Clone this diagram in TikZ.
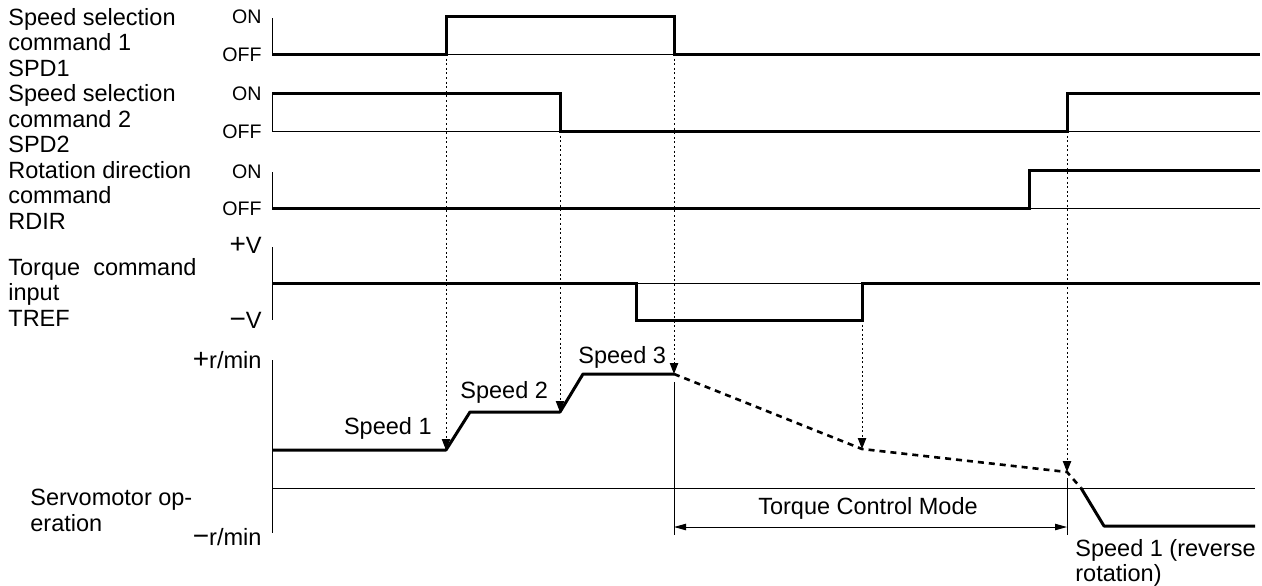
\documentclass[tikz,border=0pt]{standalone}
\usepackage{fontspec}
\setmainfont{Liberation Sans}
\usetikzlibrary{arrows.meta}
\begin{document}
\begin{tikzpicture}[x=0.5pt,y=-0.5pt,
  sig/.style={line width=1.5pt,line join=miter},
  thinline/.style={line width=0.5pt},
  guide/.style={line width=0.5pt,dash pattern=on 1pt off 1.3pt,-{Triangle[length=5.5pt,width=4.2pt]}},
  predict/.style={line width=1.3pt,dash pattern=on 3pt off 2.5pt},
  dimline/.style={line width=0.5pt,{Triangle[length=6pt,width=3.2pt]}-{Triangle[length=6pt,width=3.2pt]}},
  lbl/.style={font=\fontsize{11.75}{12.75}\selectfont,inner sep=0pt,align=left},
  lvl/.style={font=\fontsize{9.8}{12}\selectfont,inner sep=0pt,anchor=east},
  unitlbl/.style={font=\fontsize{11.8}{12}\selectfont,inner sep=0pt,anchor=east}]
\useasboundingbox (0,0) rectangle (1262,585);

% ---------- left labels ----------
\node[lbl,anchor=north west] (l1) at (8,8) {Speed selection\\command 1\\SPD1};
\node[lbl,anchor=north west] (l2) at (8,84.5) {Speed selection\\command 2\\SPD2};
\node[lbl,anchor=north west] (l3) at (8,161) {Rotation direction\\command\\RDIR};
\node[lbl,anchor=north west] (l4) at (8,258) {Torque\ \ command\\input\\TREF};
\node[lbl,anchor=north west] (l5) at (30,489) {Servomotor op-\\eration};

% ---------- level labels ----------
\node[lvl] (on1) at (262,17) {ON};
\node[lvl] (off1) at (262,55) {OFF};
\node[lvl] (on2) at (262,94) {ON};
\node[lvl] (off2) at (262,132) {OFF};
\node[lvl] (on3) at (262,172) {ON};
\node[lvl] (off3) at (262,209) {OFF};
\node[unitlbl] (pv) at (262,245) {{\fontsize{14}{14}\selectfont +}V};
\node[unitlbl] (mv) at (262,320) {{\fontsize{14}{14}\selectfont −}V};
\node[unitlbl] (prpm) at (262,360) {{\fontsize{14}{14}\selectfont +}r/min};
\node[unitlbl] (mrpm) at (262,537) {{\fontsize{14}{14}\selectfont −}r/min};

% ---------- axes and baselines ----------
\draw[thinline] (272,18) -- (272,54) -- (1260,54);
\draw[thinline] (272,93) -- (272,131) -- (1260,131);
\draw[thinline] (272,172) -- (272,208) -- (1260,208);
\draw[thinline] (272,247) -- (272,320);
\draw[thinline] (272,283) -- (1260,283);
\draw[thinline] (272,360) -- (272,533);
\draw[thinline] (272,488) -- (1255,488);

% ---------- signals ----------
\draw[sig] (272,54) -- (446,54) -- (446,16) -- (674,16) -- (674,54) -- (1260,54);
\draw[sig] (272,93) -- (560,93) -- (560,131) -- (1067,131) -- (1067,93) -- (1260,93);
\draw[sig] (272,208) -- (1029,208) -- (1029,170) -- (1260,170);
\draw[sig] (272,283) -- (636,283) -- (636,320) -- (862,320) -- (862,283) -- (1260,283);

% ---------- servomotor speed ----------
\coordinate (s1) at (446,450);
\coordinate (s2) at (560,412);
\coordinate (s3) at (674,374);
\coordinate (s4) at (862,449);
\coordinate (s5) at (1067,472);
\coordinate (z0) at (1081,488);
\draw[sig,line join=round] (272,450) -- (s1) -- (470,412) -- (s2) -- (583,374) -- (s3);
\draw[predict] (s3) -- (s4) -- (s5) -- (z0);
\draw[sig,line join=round] (z0) -- (1104,526) -- (1255,526);

% ---------- guide arrows ----------
\coordinate (g1) at (446,54);
\coordinate (g2) at (560,131);
\coordinate (g3) at (674,54);
\coordinate (g4) at (862,320);
\coordinate (g5) at (1067,131);
\draw[guide] (g1) -- (s1);
\draw[guide] (g2) -- (s2);
\draw[guide] (g3) -- (s3);
\draw[guide] (g4) -- (s4);
\draw[guide] (g5) -- (s5);

% ---------- torque control mode ----------
\coordinate (t1) at (674,382);
\coordinate (t1b) at (674,535);
\coordinate (t2) at (1067,478);
\coordinate (t2b) at (1067,535);
\draw[thinline] (t1) -- (t1b);
\draw[thinline] (t2) -- (t2b);
\coordinate (d1) at (674,527);
\coordinate (d2) at (1067,527);
\draw[dimline] (d1) -- (d2);
\node[lbl] (tcm) at (868,508) {Torque Control Mode};

% ---------- speed labels ----------
\node[lbl,anchor=east] (sp1) at (432,428) {Speed 1};
\node[lbl,anchor=west] (sp2) at (460,392) {Speed 2};
\node[lbl,anchor=west] (sp3) at (578,357) {Speed 3};
\node[lbl,anchor=north west] (sp4) at (1075,539) {Speed 1 (reverse\\rotation)};
\end{tikzpicture}
\end{document}
